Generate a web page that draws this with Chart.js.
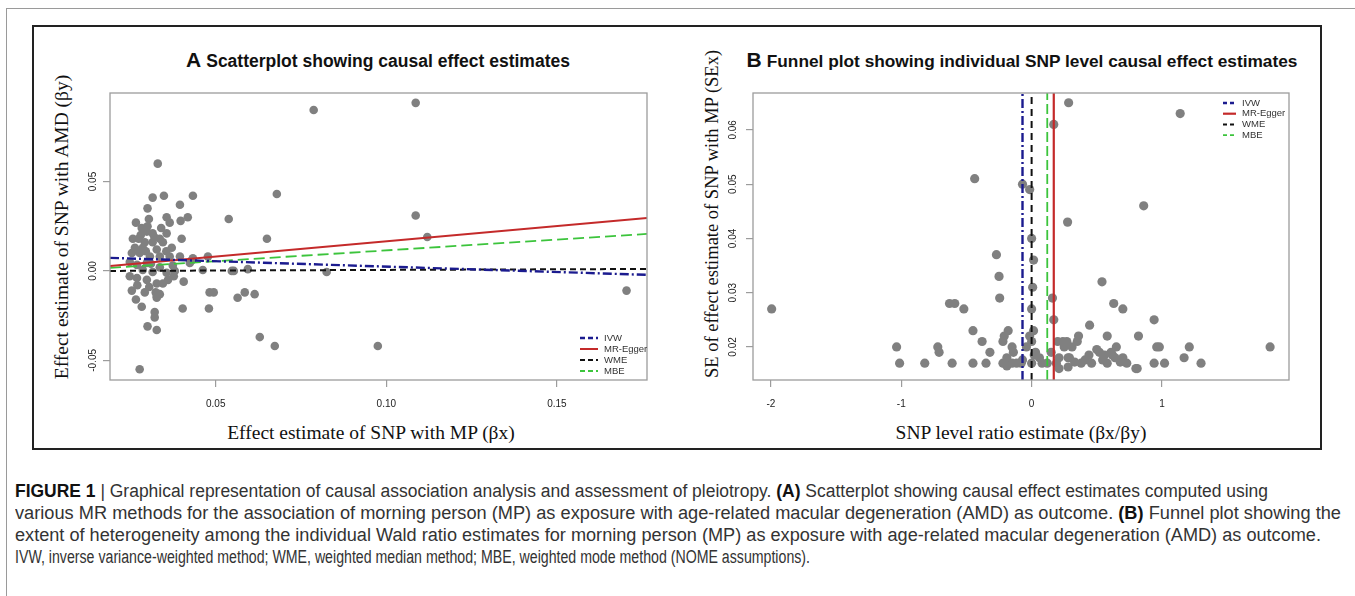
<!DOCTYPE html>
<html><head><meta charset="utf-8">
<script src="https://cdn.jsdelivr.net/npm/chart.js@4.4.0/dist/chart.umd.min.js"></script>
<style>
body{margin:0;width:1355px;height:596px;overflow:hidden;background:#fff;position:relative;font-family:"Liberation Sans",Arial,sans-serif;}
.abs{position:absolute;}
#outer{left:6px;top:8px;width:1400px;height:700px;border:1px solid #9a9a9a;}
#frame{left:32px;top:25px;width:1286px;height:421px;border:2px solid #222;}
.ttl{font-weight:bold;font-size:17.5px;color:#111;white-space:nowrap;transform:translate(-50%,-50%);}
.ttl b{font-size:21px;margin-right:5px;}
.axt{font-family:"Liberation Serif","Times New Roman",serif;font-size:19.5px;color:#111;white-space:nowrap;}
.axx{transform:translate(-50%,-50%);}
.axy{transform:translate(-50%,-50%) rotate(-90deg);}
.cv{position:absolute;}
.cap{position:absolute;left:15px;white-space:nowrap;font-size:18px;color:#333;transform-origin:0 50%;font-family:"Liberation Sans Narrow","Liberation Sans",Arial,sans-serif;}
.cap b{color:#111;}
</style></head>
<body>
<div id="outer" class="abs"></div>
<div id="frame" class="abs"></div>
<div class="abs ttl" style="left:378px;top:60px;"><b>A</b>Scatterplot showing causal effect estimates</div>
<div class="abs ttl" style="left:1022px;top:60px;font-size:17.3px;"><b>B</b>Funnel plot showing individual SNP level causal effect estimates</div>
<div class="abs axt axy" style="left:62px;top:227px;">Effect estimate of SNP with AMD (βy)</div>
<div class="abs axt axx" style="left:371px;top:433px;">Effect estimate of SNP with MP (βx)</div>
<div class="abs axt axy" style="left:712px;top:214px;font-size:18.5px;">SE of effect estimate of SNP with MP (SEx)</div>
<div class="abs axt axx" style="left:1021px;top:433px;">SNP level ratio estimate (βx/βy)</div>

<div class="cv" style="left:70px;top:85px;width:590px;height:335px;"><canvas id="cA"></canvas></div>
<div class="cv" style="left:715px;top:85px;width:585px;height:335px;"><canvas id="cB"></canvas></div>

<div class="cap" data-w="1253" style="top:481px;"><b>FIGURE 1</b> | Graphical representation of causal association analysis and assessment of pleiotropy. <b>(A)</b> Scatterplot showing causal effect estimates computed using</div>
<div class="cap" data-w="1326" style="top:503px;">various MR methods for the association of morning person (MP) as exposure with age-related macular degeneration (AMD) as outcome. <b>(B)</b> Funnel plot showing the</div>
<div class="cap" data-w="1306" style="top:525px;">extent of heterogeneity among the individual Wald ratio estimates for morning person (MP) as exposure with age-related macular degeneration (AMD) as outcome.</div>
<div class="cap" data-w="795" style="top:547px;">IVW, inverse variance-weighted method; WME, weighted median method; MBE, weighted mode method (NOME assumptions).</div>

<script>
// ---------- DATA ----------
const methods = ['IVW', 'MR-Egger', 'WME', 'MBE'];

// Panel A: scatterplot
const xLimA = [0.019, 0.1764];
const yLimA = [-0.061, 0.0995];
const xTicksA = [0.05, 0.10, 0.15];
const yTicksA = [-0.05, 0.00, 0.05];
const lineStartA = [0.0073, 0.0028, 0.0000, 0.0017];   // y at left edge
const lineEndA   = [-0.0022, 0.0296, 0.0011, 0.0207];  // y at right edge
const snpA = [
 [0.0787,0.090],[0.1086,0.094],[0.033,0.060],[0.0679,0.043],[0.0315,0.041],[0.0348,0.042],[0.0433,0.042],
 [0.0395,0.037],[0.030,0.035],[0.0538,0.029],[0.0418,0.030],[0.0397,0.028],[0.0356,0.030],[0.0365,0.027],
 [0.065,0.018],[0.040,0.018],[0.1086,0.031],[0.112,0.019],[0.0825,-0.0006],[0.1704,-0.011],[0.0975,-0.042],
 [0.0673,-0.042],[0.0629,-0.037],[0.0277,-0.055],[0.0327,-0.033],[0.030,-0.031],[0.0321,-0.026],[0.0321,-0.023],
 [0.0283,-0.020],[0.0403,-0.021],[0.048,-0.021],[0.0482,-0.012],[0.0494,-0.012],[0.0585,-0.012],[0.0614,-0.013],
 [0.0564,-0.015],[0.0406,-0.006],[0.0547,0.0],[0.0553,0.0],[0.0594,0.001],[0.0462,0.0005],[0.0477,0.008],
 [0.043,0.006],[0.0377,-0.003],[0.0254,-0.011],[0.0266,-0.016],[0.0292,-0.012],[0.0324,-0.012],[0.0336,-0.013],
 [0.0327,-0.015],
 [0.0266,0.027],[0.0304,0.029],[0.0283,0.024],[0.0298,0.022],[0.0315,0.021],[0.0356,0.021],[0.0257,0.018],
 [0.0274,0.018],[0.0292,0.016],[0.0315,0.016],[0.0336,0.018],[0.0345,0.016],[0.0371,0.013],[0.0263,0.013],
 [0.0286,0.013],[0.0327,0.012],[0.0254,0.010],[0.0277,0.010],[0.0307,0.008],[0.0336,0.008],[0.0365,0.008],
 [0.0395,0.008],[0.0433,0.007],[0.0424,0.0045],[0.0248,0.005],[0.0269,0.0034],[0.0298,0.0045],[0.0336,0.002],
 [0.0374,0.003],[0.0286,0.0006],[0.0315,-0.0006],[0.0356,-0.001],
 [0.0248,-0.003],[0.0269,-0.004],[0.0298,-0.005],[0.0327,-0.007],[0.0345,-0.007],[0.0327,-0.014],
 [0.028,0.020],[0.030,0.025],[0.032,0.019],[0.034,0.024],[0.0295,0.011],[0.031,0.004],[0.0355,0.011],
 [0.027,-0.008],[0.0305,-0.009],[0.036,-0.005],[0.038,0.000]
];

// Panel B: funnel plot
const xLimB = [-2.138, 1.975];
const yLimB = [0.0139, 0.0668];
const xTicksB = [-2, -1, 0, 1];
const yTicksB = [0.02, 0.03, 0.04, 0.05, 0.06];
const estB = [-0.07, 0.17, 0.0, 0.12];
const snpB = [
 [-1.995,0.027],[-0.437,0.051],[-1.036,0.020],[-1.013,0.017],[-0.82,0.017],[-0.72,0.020],[-0.71,0.019],
 [-0.61,0.017],[-0.63,0.028],[-0.59,0.028],[-0.52,0.027],[-0.45,0.023],[-0.45,0.017],[-0.38,0.021],
 [-0.35,0.017],[-0.32,0.019],[-0.27,0.037],[-0.25,0.033],[-0.245,0.029],[-0.22,0.017],[-0.21,0.022],
 [-0.18,0.023],[-0.22,0.021],[-0.15,0.020],[-0.14,0.019],[-0.19,0.018],[-0.15,0.017],[-0.08,0.017],
 [-0.07,0.050],[-0.015,0.049],[0.0,0.040],[0.015,0.036],[0.008,0.031],[0.0,0.027],[-0.015,0.022],
 [0.015,0.023],[0.0,0.021],[0.03,0.019],[0.0,0.017],[-0.115,0.017],[-0.19,0.0165],[-0.07,0.0176],
 [-0.04,0.020],[0.06,0.018],[0.08,0.017],[0.02,0.0185],
 [0.284,0.065],[1.14,0.063],[0.17,0.061],[0.86,0.046],[0.276,0.043],[0.54,0.032],[0.63,0.028],[0.70,0.027],
 [0.94,0.025],[0.445,0.024],[0.16,0.029],[0.17,0.025],[0.58,0.022],[0.82,0.022],[0.36,0.022],[0.35,0.021],
 [0.20,0.021],[0.24,0.021],[0.27,0.021],[0.25,0.020],[0.31,0.020],[0.65,0.020],[0.96,0.020],[0.98,0.020],
 [1.21,0.020],[1.83,0.020],[1.17,0.018],[1.30,0.017],[0.94,0.017],[1.02,0.017],[0.80,0.016],[0.73,0.017],
 [0.70,0.018],[0.61,0.019],[0.52,0.019],[0.50,0.0195],[0.29,0.018],[0.41,0.0176],[0.46,0.017],[0.545,0.0176],
 [0.58,0.017],[0.64,0.018],[0.81,0.016],[0.21,0.016],[0.38,0.017],[0.62,0.0185],[0.15,0.019],[0.21,0.018],
 [0.28,0.018],[0.12,0.017],[0.19,0.017],[0.28,0.0163],[0.33,0.0172],[0.56,0.0185],[0.68,0.0172],[0.44,0.0185]
];

// ---------- STYLES ----------
const stylesA = [
  {color:'#1b1b8f', dash:[9,3,2,3], width:2.4},
  {color:'#c42a2a', dash:[], width:2},
  {color:'#111111', dash:[6,4], width:2},
  {color:'#3cc43c', dash:[11,5], width:1.8}
];
const stylesB = [
  {color:'#1b1b8f', dash:[9,3,2,3], width:2.4},
  {color:'#c42a2a', dash:[], width:2.2},
  {color:'#111111', dash:[7,5], width:2},
  {color:'#3cc43c', dash:[10,4], width:1.8}
];
const pointColor = '#808080';

// ---------- PLUGINS ----------
const rBox = {
  id:'rBox',
  afterDraw(chart, args, opts){
    const {ctx, chartArea:a} = chart;
    ctx.save();
    ctx.strokeStyle = '#9c9c9c'; ctx.lineWidth = 1.3;
    ctx.strokeRect(a.left, a.top, a.right - a.left, a.bottom - a.top);
    // rotated y tick labels
    const ys = chart.scales.y;
    ctx.fillStyle = '#222';
    ctx.font = '10px "Liberation Sans", Arial, sans-serif';
    ctx.textAlign = 'center'; ctx.textBaseline = 'middle';
    opts.yTicks.forEach(v => {
      const py = ys.getPixelForValue(v);
      ctx.save();
      ctx.translate(a.left - opts.yLabelOffset, py);
      ctx.rotate(-Math.PI/2);
      ctx.fillText(v.toFixed(2), 0, 0);
      ctx.restore();
    });
    // legend
    const L = opts.legend;
    ctx.font = L.fontSize + 'px "Liberation Sans", Arial, sans-serif';
    ctx.textAlign = 'left';
    ctx.fillStyle = '#333';
    chart.data.datasets.forEach(ds => {
      if (ds.legendIndex === undefined) return;
      const y = L.y(a) + ds.legendIndex * L.rowH;
      const x0 = L.x(a);
      ctx.save();
      ctx.strokeStyle = ds.borderColor; ctx.lineWidth = ds.borderWidth;
      ctx.setLineDash(ds.legendDash || []);
      ctx.beginPath(); ctx.moveTo(x0, y); ctx.lineTo(x0 + L.lineW, y); ctx.stroke();
      ctx.restore();
      ctx.fillText(ds.label, x0 + L.lineW + L.gap, y);
    });
    ctx.restore();
  }
};

function axisCommon(lim, ticks, fitKey, fitVal, fmt, showLabels){
  return {
    type:'linear', min:lim[0], max:lim[1],
    afterBuildTicks: s => { s.ticks = ticks.map(v => ({value:v})); },
    afterFit: s => { s[fitKey] = fitVal; },
    grid:{drawOnChartArea:false, drawTicks:true, tickLength:7, color:'#9c9c9c', lineWidth:1.2},
    border:{display:false},
    ticks:{display:showLabels, padding:11, color:'#222', font:{size:10, family:'"Liberation Sans", Arial, sans-serif'}, maxRotation:0, callback: fmt}
  };
}

function buildA(){
  const ds = methods.map((m, i) => ({
    label:m, legendIndex:i,
    data:[{x:xLimA[0], y:lineStartA[i]}, {x:xLimA[1], y:lineEndA[i]}],
    showLine:true, pointRadius:0, borderColor:stylesA[i].color, borderDash:stylesA[i].dash,
    legendDash: stylesA[i].dash.length ? [5,3] : [],
    borderWidth:stylesA[i].width, fill:false, order:i
  }));
  ds.push({label:'SNP', data:snpA.map(([x,y]) => ({x,y})), backgroundColor:pointColor, borderWidth:0, pointRadius:4.3, order:10});
  return new Chart(document.getElementById('cA'), {
    type:'scatter', data:{datasets:ds},
    options:{
      responsive:true, maintainAspectRatio:false, animation:false, events:[],
      layout:{padding:{left:0, right:13, top:8, bottom:0}},
      plugins:{legend:{display:false}, tooltip:{enabled:false},
        rBox:{yTicks:yTicksA, yLabelOffset:17,
          legend:{x:a => a.right - 67, y:a => a.bottom - 42, rowH:11, lineW:18, gap:6, fontSize:9.5}}},
      scales:{
        x: axisCommon(xLimA, xTicksA, 'height', 40, v => Number(v).toFixed(2), true),
        y: axisCommon(yLimA, yTicksA, 'width', 40, v => Number(v).toFixed(2), false)
      }
    },
    plugins:[rBox]
  });
}

function buildB(){
  const ds = methods.map((m, i) => ({
    label:m, legendIndex:i,
    data:[{x:estB[i], y:yLimB[0]}, {x:estB[i], y:yLimB[1]}],
    showLine:true, pointRadius:0, borderColor:stylesB[i].color, borderDash:stylesB[i].dash,
    legendDash: stylesB[i].dash.length ? [4,3] : [],
    borderWidth:stylesB[i].width, fill:false, order:i
  }));
  ds.push({label:'SNP', data:snpB.map(([x,y]) => ({x,y})), backgroundColor:pointColor, borderWidth:0, pointRadius:4.6, order:10});
  return new Chart(document.getElementById('cB'), {
    type:'scatter', data:{datasets:ds},
    options:{
      responsive:true, maintainAspectRatio:false, animation:false, events:[],
      layout:{padding:{left:0, right:11, top:8, bottom:0}},
      plugins:{legend:{display:false}, tooltip:{enabled:false},
        rBox:{yTicks:yTicksB, yLabelOffset:20,
          legend:{x:a => a.right - 66, y:a => a.top + 10, rowH:10.7, lineW:13, gap:6, fontSize:9.5}}},
      scales:{
        x: axisCommon(xLimB, xTicksB, 'height', 40, v => String(Math.round(v)), true),
        y: axisCommon(yLimB, yTicksB, 'width', 38, v => Number(v).toFixed(2), false)
      }
    },
    plugins:[rBox]
  });
}

buildA();
buildB();

document.querySelectorAll('.cap').forEach(el => {
  const target = +el.dataset.w;
  const w = el.getBoundingClientRect().width;
  el.style.transform = 'scaleX(' + (target / w) + ')';
});
</script>
</body></html>
